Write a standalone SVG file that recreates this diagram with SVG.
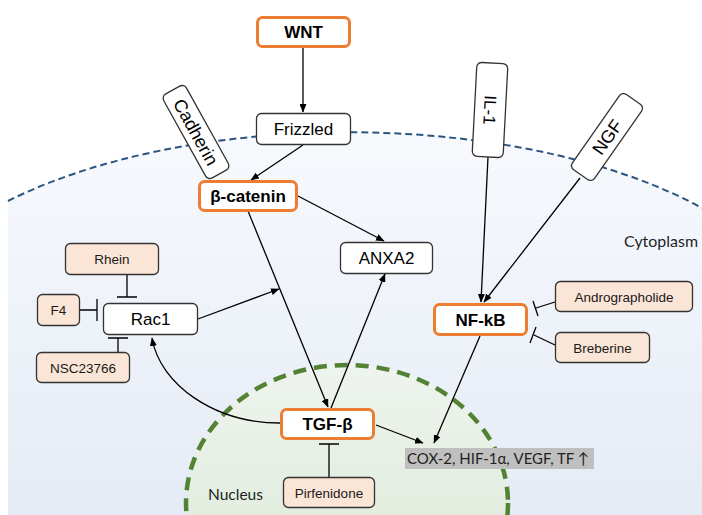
<svg xmlns="http://www.w3.org/2000/svg" width="702" height="515" viewBox="0 0 702 515">
<defs>
<linearGradient id="cyto" x1="0" y1="0" x2="0" y2="1">
<stop offset="0" stop-color="#f7f9fd"/>
<stop offset="1" stop-color="#e5ebf5"/>
</linearGradient>
<linearGradient id="nuc" x1="0" y1="0" x2="0" y2="1">
<stop offset="0" stop-color="#eef4ee"/>
<stop offset="1" stop-color="#d9e7d3"/>
</linearGradient>
<marker id="arr" markerUnits="userSpaceOnUse" markerWidth="9" markerHeight="7" refX="8" refY="3.5" orient="auto">
<path d="M0,0 L8.5,3.5 L0,7 z" fill="#000"/>
</marker>
<style>
.lbl{font-family:"Liberation Sans",Arial,sans-serif;fill:#000;text-anchor:middle}
.big{font-size:17px}
.rot{font-size:18px}
.b{font-weight:bold}
.sm{font-size:13.5px;fill:#1a1a1a}
.cal{font-family:Lato,"Open Sans",sans-serif;fill:#1f1f1f}
.wbox{fill:#fff;stroke:#333;stroke-width:1.3}
.obox{fill:#fff;stroke:#ED7D31;stroke-width:3}
.pbox{fill:#FBE5D6;stroke:#333;stroke-width:1.3}
.con{fill:none;stroke:#000;stroke-width:1.3}
.arr{marker-end:url(#arr)}
</style>
</defs>

<g id="cell">
<path d="M8,201 A460,210 0 0 1 702,208 L702,515 L8,515 Z" fill="url(#cyto)"/>
<path d="M8,201 A460,210 0 0 1 702,208" fill="none" stroke="#2a5580" stroke-width="2" stroke-dasharray="7,4"/>
<text class="cal" x="661" y="247" font-size="15" text-anchor="middle" textLength="74" lengthAdjust="spacingAndGlyphs">Cytoplasm</text>
</g>

<g id="nucleus">
<ellipse cx="347" cy="503" rx="161" ry="138" fill="url(#nuc)" stroke="#548235" stroke-width="4.5" stroke-dasharray="13,8"/>
<text class="cal" x="235.5" y="500" font-size="15" text-anchor="middle" textLength="55" lengthAdjust="spacingAndGlyphs">Nucleus</text>
</g>

<g id="connectors">
<path class="con arr" d="M303,48 L303,112"/>
<path class="con arr" d="M303,145 L251,180"/>
<path class="con arr" d="M298,196 L384,241"/>
<path class="con arr" d="M248,211 L328,407"/>
<path class="con arr" d="M331,408 L385,274"/>
<path class="con arr" d="M198,319 L279,289"/>
<path class="con arr" d="M280,423 C215,423 160,385 152,338"/>
<path class="con arr" d="M376,425 L423,443"/>
<path class="con arr" d="M480,336 L434,443"/>
<path class="con arr" d="M488,157 L481,302"/>
<path class="con arr" d="M580,178 L484,302"/>
<path class="con" d="M127,275 L127,297 M117,297 L137,297"/>
<path class="con" d="M80,310 L97,310 M97,299 L97,321"/>
<path class="con" d="M118,352 L118,338 M108,338 L128,338"/>
<path class="con" d="M329,477 L329,444 M319,444 L339,444"/>
<path class="con" d="M555,302 L536,308 M533,301 L538,316"/>
<path class="con" d="M555,345 L534,335 M536,327 L530,343"/>
</g>

<g id="WNT">
<rect class="obox" x="257.5" y="17.5" width="92" height="29" rx="5"/>
<text class="lbl big b" x="303.5" y="38">WNT</text>
</g>
<g id="Frizzled">
<rect class="wbox" x="256.5" y="113.5" width="94" height="31" rx="5"/>
<text class="lbl big" x="303.5" y="135">Frizzled</text>
</g>
<g id="Cadherin" transform="translate(196,132) rotate(61)">
<rect class="wbox" x="-48" y="-13" width="96" height="26" rx="5"/>
<text class="lbl rot" x="0" y="6.5">Cadherin</text>
</g>
<g id="IL-1" transform="translate(490,110) rotate(93)">
<rect class="wbox" x="-47" y="-15.5" width="94" height="31" rx="5"/>
<text class="lbl big" x="0" y="6">IL-1</text>
</g>
<g id="NGF" transform="translate(607,137) rotate(-55)">
<rect class="wbox" x="-46" y="-13.5" width="92" height="27" rx="5"/>
<text class="lbl rot" x="0" y="6.5">NGF</text>
</g>
<g id="b-catenin">
<rect class="obox" x="199.5" y="181.5" width="97" height="29" rx="5"/>
<text class="lbl big b" x="248" y="201.5">β-catenin</text>
</g>
<g id="ANXA2">
<rect class="wbox" x="340.5" y="242.5" width="92" height="31" rx="5"/>
<text class="lbl big" x="386.5" y="264">ANXA2</text>
</g>
<g id="Rhein">
<rect class="pbox" x="65.5" y="243.5" width="93" height="31" rx="5"/>
<text class="lbl sm" x="112" y="264">Rhein</text>
</g>
<g id="F4">
<rect class="pbox" x="37.5" y="294.5" width="42" height="31" rx="5"/>
<text class="lbl sm" x="58.5" y="315">F4</text>
</g>
<g id="Rac1">
<rect class="wbox" x="103.5" y="303.5" width="94" height="31" rx="5"/>
<text class="lbl big" x="150.5" y="325">Rac1</text>
</g>
<g id="NSC23766">
<rect class="pbox" x="36.5" y="352.5" width="93" height="30" rx="5"/>
<text class="lbl sm" x="83" y="372.5">NSC23766</text>
</g>
<g id="TGF-b">
<rect class="obox" x="281.5" y="409.5" width="92" height="29" rx="5"/>
<text class="lbl big b" x="327.5" y="430">TGF-β</text>
</g>
<g id="Pirfenidone">
<rect class="pbox" x="283.5" y="477.5" width="91" height="30" rx="5"/>
<text class="lbl sm" x="329" y="497.5">Pirfenidone</text>
</g>
<g id="NF-kB">
<rect class="obox" x="434.5" y="304.5" width="92" height="30" rx="5"/>
<text class="lbl big b" x="480.5" y="325.5">NF-kB</text>
</g>
<g id="Andrographolide">
<rect class="pbox" x="555.5" y="281.5" width="137" height="30" rx="5"/>
<text class="lbl sm" x="624" y="301.5">Andrographolide</text>
</g>
<g id="Breberine">
<rect class="pbox" x="555.5" y="332.5" width="94" height="30" rx="5"/>
<text class="lbl sm" x="602.5" y="352.5">Breberine</text>
</g>
<g id="COX-2">
<rect x="405" y="448" width="189" height="21" fill="#bfbfbf"/>
<text class="cal" x="407" y="464" font-size="15.5" textLength="182" lengthAdjust="spacingAndGlyphs">COX-2, HIF-1α, VEGF, TF ↑</text>
</g>
</svg>
